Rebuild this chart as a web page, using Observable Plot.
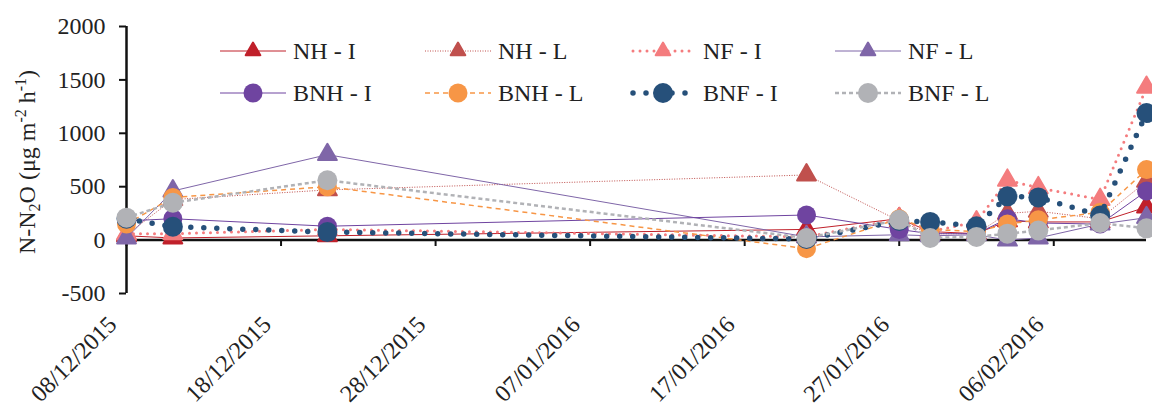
<!DOCTYPE html>
<html><head><meta charset="utf-8">
<script src="https://cdn.jsdelivr.net/npm/d3@7"></script>
<script src="https://cdn.jsdelivr.net/npm/@observablehq/plot@0.6"></script>
<style>
body{margin:0;background:#fff;}
#wrap{position:relative;width:1152px;height:410px;font-family:"Liberation Serif","Times New Roman",Times,serif;}
#legend{position:absolute;left:220px;top:35px;display:grid;grid-template-columns:repeat(4,205px);row-gap:10px;}
.item{display:flex;align-items:center;height:32px;font-size:24px;color:#222;white-space:nowrap;}
.item svg{margin-right:7px;overflow:visible;}
</style></head><body><div id="wrap"><div id="chart"></div><div id="legend"></div></div>
<script>
const FONT = '"Liberation Serif","Times New Roman",Times,serif';
const dates = ["2015-12-08","2015-12-11","2015-12-21","2016-01-21","2016-01-27","2016-01-29","2016-02-01","2016-02-03","2016-02-05","2016-02-09","2016-02-12"];
const tickDates = ["2015-12-08","2015-12-18","2015-12-28","2016-01-07","2016-01-17","2016-01-27","2016-02-06"];
const tickLabels = ["08/12/2015","18/12/2015","28/12/2015","07/01/2016","17/01/2016","27/01/2016","06/02/2016"];
const yTicks = [-500, 0, 500, 1000, 1500, 2000];
const seriesNames = ["NH - I","NH - L","NF - I","NF - L","BNH - I","BNH - L","BNF - I","BNF - L"];
const NH_I  = [40, 20, 40, 100, 200, 80, 60, 180, 170, 170, 310];
const NH_L  = [50, 380, 470, 610, 180, 60, 60, 250, 270, 200, 550];
const NF_I  = [60, 60, 100, 30, 200, 80, 170, 560, 490, 380, 1430];
const NF_L  = [20, 460, 800, 30, 50, 40, 50, 0, 20, 150, 210];
const BNH_I = [180, 200, 130, 235, 100, 60, 60, 200, 160, 150, 460];
const BNH_L = [150, 400, 500, -80, 200, 100, 80, 150, 190, 260, 660];
const BNF_I = [200, 125, 75, 10, 180, 170, 130, 410, 400, 230, 1190];
const BNF_L = [210, 350, 560, 20, 190, 20, 30, 60, 90, 160, 110];
const seriesValues = [NH_I, NH_L, NF_I, NF_L, BNH_I, BNH_L, BNF_I, BNF_L];

const styles = [
  {color:"#c0202a", symbol:"triangle", r:7, width:1, dash:null, cap:"butt"},
  {color:"#c0504d", symbol:"triangle", r:7, width:1, dash:"1 1.5", cap:"butt"},
  {color:"#f47c7e", symbol:"triangle", r:7, width:3, dash:"0 7", cap:"round"},
  {color:"#7f66a8", symbol:"triangle", r:7, width:1, dash:null, cap:"butt"},
  {color:"#6f44a0", symbol:"circle", r:9.5, width:1, dash:null, cap:"butt"},
  {color:"#f79646", symbol:"circle", r:9.5, width:1.5, dash:"5 4", cap:"butt"},
  {color:"#26507a", symbol:"circle", r:10, width:5.5, dash:"0 13", cap:"round"},
  {color:"#b1b2b6", symbol:"circle", r:10, width:2.5, dash:"4 3", cap:"butt"}
];

const parse = d3.utcParse("%Y-%m-%d");
const labelByTime = new Map(tickDates.map((d,i)=>[+parse(d), tickLabels[i]]));

const seriesMarks = [];
seriesNames.forEach((name, s) => {
  const st = styles[s];
  const rows = dates.map((d,i)=>({date: parse(d), value: seriesValues[s][i], series: name}));
  seriesMarks.push(Plot.line(rows, {x:"date", y:"value", stroke: st.color, strokeWidth: st.width,
    strokeDasharray: st.dash, strokeLinecap: st.cap}));
  seriesMarks.push(Plot.dot(rows, {x:"date", y:"value", symbol: st.symbol, r: st.r, fill: st.color,
    stroke: st.color, strokeWidth: st.symbol === "triangle" ? 2 : 0, strokeLinejoin:"round"}));
});

const xDomain = [parse(dates[0]), parse(dates[dates.length-1])];
const plot = Plot.plot({
  width: 1152, height: 410,
  marginLeft: 126, marginRight: 6, marginTop: 26, marginBottom: 117,
  style: {fontFamily: FONT, fontSize: "24px", color: "#222", background: "white"},
  x: {type: "utc", domain: xDomain},
  y: {domain: [-500, 2000]},
  marks: [
    Plot.axisY({ticks: yTicks, tickSize: 7, tickPadding: 14, label: null, tickFormat: d => String(d), stroke:"#111", strokeWidth: 2}),
    Plot.ruleX([xDomain[0]], {stroke: "#111", strokeWidth: 2.5}),
    Plot.ruleY([0], {stroke: "#111", strokeWidth: 2.5}),
    Plot.ruleX(tickDates.map(parse), {y1: 0, y2: -60, stroke: "#111", strokeWidth: 2}),
    Plot.axisX({ticks: tickDates.map(parse), tickSize: 0, tickPadding: 27, dx: -14, tickRotate: -45, label: null,
      tickFormat: d => labelByTime.get(+d)}),
    ...seriesMarks
  ]
});
document.getElementById("chart").append(plot);

// y-axis title with sub/superscripts
const svg = d3.select(plot);
const t = svg.append("text")
  .attr("transform", "translate(35,162) rotate(-90)")
  .attr("text-anchor", "middle")
  .attr("font-family", FONT)
  .attr("font-size", 24)
  .attr("fill", "#222");
t.append("tspan").text("N-N");
t.append("tspan").attr("font-size", 16).attr("dy", 5).text("2");
t.append("tspan").attr("dy", -5).text("O (μg m");
t.append("tspan").attr("font-size", 16).attr("dy", -9).text("-2");
t.append("tspan").attr("dy", 9).text(" h");
t.append("tspan").attr("font-size", 16).attr("dy", -9).text("-1");
t.append("tspan").attr("dy", 9).text(")");

// legend
const legend = d3.select("#legend");
seriesNames.forEach((name, s) => {
  const st = styles[s];
  const item = legend.append("div").attr("class", "item");
  const sv = item.append("svg").attr("width", 66).attr("height", 32);
  sv.append("line").attr("x1", st.cap === "round" ? 3 : 0).attr("x2", 66).attr("y1", 16).attr("y2", 16)
    .attr("stroke", st.color).attr("stroke-width", st.width)
    .attr("stroke-dasharray", st.dash).attr("stroke-linecap", st.cap);
  const sym = st.symbol === "triangle" ? d3.symbolTriangle2 : d3.symbolCircle;
  sv.append("path").attr("d", d3.symbol(sym, Math.PI * st.r * st.r)())
    .attr("transform", "translate(33,16)")
    .attr("fill", st.color).attr("stroke", st.color)
    .attr("stroke-width", st.symbol === "triangle" ? 2 : 0).attr("stroke-linejoin", "round");
  item.append("span").text(name);
});
</script>
</body></html>
